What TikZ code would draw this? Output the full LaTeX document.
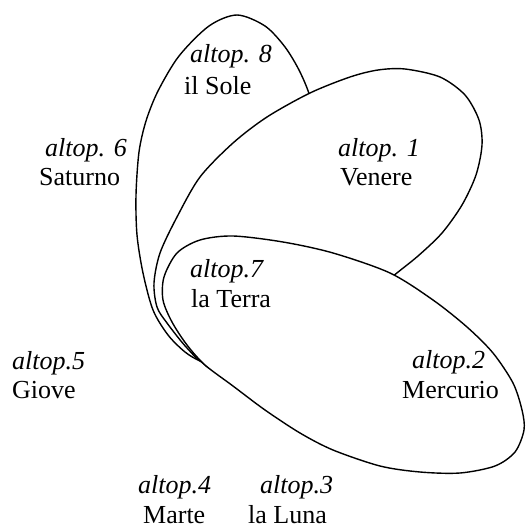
\documentclass[tikz,border=0pt]{standalone}
\usepackage{fontspec}
\setmainfont{Liberation Serif}
\usetikzlibrary{positioning}

\begin{document}
\begin{tikzpicture}[
        x=1pt, y=-1pt,
        orbit/.style={draw=black, fill=white, line width=1.4pt},
        lbl/.style={anchor=base west, inner sep=0pt, text depth=0pt, font=\fontsize{26}{30}\selectfont},
        alt/.style={lbl, font=\fontsize{26}{30}\selectfont\itshape}
      ]
        \useasboundingbox (0,0) rectangle (525,527);

        % back to front: Sole, Venere, Terra
        \filldraw[orbit] plot[smooth cycle] coordinates {
          (237,15) (265,26) (285,47) (300,72) (311,100) (318,140) (305,230)
          (262,315) (218,367) (200,361) (185,352) (168,335) (153,310)
          (143,273) (137,235) (136,195) (139,152) (146,121) (158,91)
          (179,56) (209,26)};
        \filldraw[orbit] plot[smooth cycle] coordinates {
          (405,69) (440,77) (465,95) (479,120) (482,145) (476,175) (462,205)
          (442,233) (418,256) (392,277) (360,305) (300,348) (245,368)
          (206,364) (187,348) (167,323) (157,307) (154,283) (160,253)
          (177,217) (200,177) (233,143) (267,117) (310,93) (350,77) (378,70)};
        \filldraw[orbit] plot[smooth cycle] coordinates {
          (233,236) (283,242) (333,253) (390,273) (433,300) (467,327)
          (493,353) (513,383) (522,410) (524,430) (515,452) (495,466)
          (460,473) (420,472) (380,466) (333,450) (300,433) (265,410)
          (233,386) (205,365) (187,345) (172,322) (163,300) (164,277)
          (177,253) (200,240)};

        \node[alt] (a8) at (190,63) {altop. 8};
        \node[lbl] (sole) at (184,94) {il Sole};
        \node[alt] (a6) at (45,156) {altop. 6};
        \node[lbl] (saturno) at (39,185) {Saturno};
        \node[alt] (a1) at (338,156) {altop. 1};
        \node[lbl] (venere) at (340,185) {Venere};
        \node[alt] (a7) at (190,277) {altop.7};
        \node[lbl] (terra) at (191,307) {la Terra};
        \node[alt] (a5) at (12,369) {altop.5};
        \node[lbl] (giove) at (12,398) {Giove};
        \node[alt] (a2) at (412,368) {altop.2};
        \node[lbl] (mercurio) at (402,398) {Mercurio};
        \node[alt] (a4) at (138,493) {altop.4};
        \node[lbl] (marte) at (143,523) {Marte};
        \node[alt] (a3) at (260,493) {altop.3};
        \node[lbl] (luna) at (248,523) {la Luna};
      \end{tikzpicture}
\end{document}
